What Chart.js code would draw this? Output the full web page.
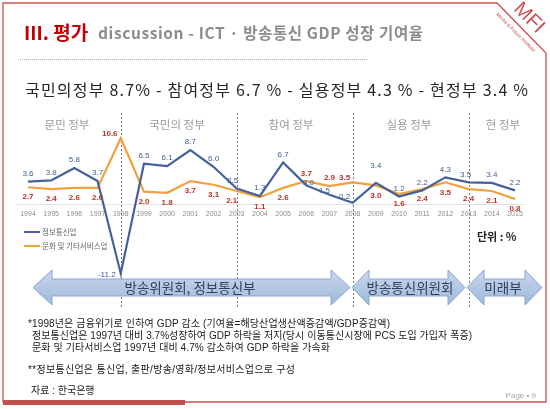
<!DOCTYPE html>
<html>
<head>
<meta charset="utf-8">
<script src="https://cdn.jsdelivr.net/npm/chart.js@4/dist/chart.umd.min.js"></script>
<style>
  html, body { margin:0; padding:0; background:#fff; }
  #slide { position:relative; width:550px; height:409px; overflow:hidden; }
  #chart { position:absolute; left:0; top:0; }
  #deco { position:absolute; left:0; top:0; pointer-events:none; }
  .kr { font-family:"Noto Sans CJK KR","Liberation Sans",sans-serif; }
  .note { font-family:"Liberation Sans","Noto Sans CJK KR",sans-serif; font-size:10px; fill:#1a1a1a; }
</style>
</head>
<body>
<div id="slide">
  <canvas id="chart" width="550" height="409"></canvas>
  <svg id="deco" width="550" height="409" xmlns="http://www.w3.org/2000/svg">
    <defs>
      <linearGradient id="arrowFill" x1="0" y1="0" x2="0" y2="1">
        <stop offset="0" stop-color="#c9d8ec"/>
        <stop offset="1" stop-color="#9fb8db"/>
      </linearGradient>
    </defs>

    <!-- slide frame -->
    <path d="M3,3 L497,3 L546,53 L546,402 L3,402 Z" fill="none" stroke="#c9504f" stroke-width="1.3"/>
    <rect x="3" y="400" width="182" height="5" fill="#c0504d"/>
    <text x="530" y="24" transform="rotate(45 530 17)" text-anchor="middle" font-family="Liberation Sans" font-size="20" fill="#c9504f">MFI</text>
    <text x="516" y="34" transform="rotate(45 516 32)" text-anchor="middle" font-family="Liberation Sans" font-size="5" fill="#c9504f">Media &amp; Future Institute</text>

    <!-- title -->
    <text x="24" y="40" class="kr" font-size="19" font-weight="700" fill="#c00000">III. 평가</text>
    <text x="98" y="39" class="kr" font-size="15.5" font-weight="700" fill="#8c8c8c" textLength="325">discussion - ICT · 방송통신 GDP 성장 기여율</text>
    <line x1="18" y1="59.5" x2="367" y2="59.5" stroke="#b0b0b0" stroke-width="1" stroke-dasharray="1,1"/>
    <text x="25" y="96" class="kr" font-size="16" fill="#262626" textLength="503">국민의정부 8.7% - 참여정부 6.7 % - 실용정부 4.3 % - 현정부 3.4 %</text>

    <!-- era labels -->
    <g class="kr" font-size="11.5" fill="#9a9a9a" text-anchor="middle">
      <text x="67" y="129">문민 정부</text>
      <text x="177" y="129">국민의 정부</text>
      <text x="291" y="129">참여 정부</text>
      <text x="409" y="129">실용 정부</text>
      <text x="503" y="129">현 정부</text>
    </g>

    <!-- legend -->
    <line x1="24" y1="232" x2="40" y2="232" stroke="#44619a" stroke-width="2"/>
    <text x="42" y="234.5" class="kr" font-size="7.5" fill="#666">정보통신업</text>
    <line x1="24" y1="246" x2="40" y2="246" stroke="#f0a13e" stroke-width="2"/>
    <text x="42" y="248.5" class="kr" font-size="7.5" fill="#666">문화 및 기타서비스업</text>

    <text x="477" y="241" class="kr" font-size="11" font-weight="700" fill="#222">단위 : %</text>

    <!-- ministry arrows -->
    <g fill="url(#arrowFill)" stroke="#8aa6cf" stroke-width="1">
      <polygon points="33,287.5 52,270 52,279 331,279 331,270 350,287.5 331,305 331,296 52,296 52,305"/>
      <polygon points="352,287.5 369,270 369,279 448,279 448,270 465,287.5 448,305 448,296 369,296 369,305"/>
      <polygon points="467,287.5 484,270 484,279 525,279 525,270 542,287.5 525,305 525,296 484,296 484,305"/>
    </g>
    <g class="kr" font-size="13.5" fill="#2f3f5c" text-anchor="middle">
      <text x="190" y="292.5">방송위원회, 정보통신부</text>
      <text x="410" y="292.5">방송통신위원회</text>
      <text x="503" y="292.5">미래부</text>
    </g>

    <!-- notes -->
    <text x="28" y="327" class="note" textLength="362">*1998년은 금융위기로 인하여 GDP 감소 (기여율=해당산업생산액증감액/GDP증감액)</text>
    <text x="32" y="339" class="note" textLength="440">정보통신업은 1997년 대비 3.7%성장하여 GDP 하락을 저지(당시 이동통신시장에 PCS 도입 가입자 폭증)</text>
    <text x="32" y="350.5" class="note" textLength="298">문화 및 기타서비스업 1997년 대비 4.7% 감소하여 GDP 하락을 가속화</text>
    <text x="28" y="372.5" class="note" textLength="267">**정보통신업은 통신업, 출판/방송/영화/정보서비스업으로 구성</text>
    <text x="31" y="393.5" class="note">자료 : 한국은행</text>

    <text x="536" y="398" text-anchor="end" font-family="Liberation Sans" font-size="8" fill="#a6a6a6">Page • 9</text>
  </svg>
</div>

<script>
// values (GDP growth contribution, %)
const years = ['1994','1995','1996','1997','1998','1999','2000','2001','2002','2003','2004',
               '2005','2006','2007','2008','2009','2010','2011','2012','2013','2014','2015'];
const ictValues     = [3.6, 3.8, 5.8, 3.7, -11.2, 6.5, 6.1, 8.7, 6.0, 2.5, 1.3,
                       6.7, 3.0, 1.5, 0.2, 3.4, 1.2, 2.2, 4.3, 3.5, 3.4, 2.2];
const cultureValues = [2.7, 2.4, 2.6, 2.6, 10.6, 2.0, 1.8, 3.7, 3.1, 2.1, 1.1,
                       2.6, 3.7, 2.9, 3.5, 3.0, 1.6, 2.4, 3.5, 2.4, 2.1, 0.8];
const seriesNames = ['정보통신업', '문화 및 기타서비스업'];
const eraStarts = ['1998', '2003', '2008', '2013'];

// where a value label sits relative to its point, when not the default
const labelNudge = [
  { '1998':[-14,1], '2003':[-4,-8], '2006':[2,-3], '2007':[-5,-4], '2008':[-8,-6], '2009':[0,-17], '2013':[-3,-8] },
  { '1998':[-11,-4], '2003':[-5,10], '2006':[0,-7], '2007':[0,-8], '2008':[-8,-5] }
];
const labelDefault = [[0,-8], [0,10]];
const labelStyle = [
  { color:'#45608c', font:'8px "Liberation Sans", sans-serif' },
  { color:'#b8322a', font:'bold 8px "Liberation Sans", sans-serif' }
];

const eraLines = {
  id:'eraLines',
  beforeDatasetsDraw(chart){
    const {ctx, scales:{x, y}} = chart;
    ctx.save();
    // zero line, a little wider than the plot
    const y0 = Math.round(y.getPixelForValue(0)) + 0.5;
    ctx.strokeStyle = '#e2e2e2';
    ctx.lineWidth = 1;
    ctx.beginPath(); ctx.moveTo(17, y0); ctx.lineTo(525, y0); ctx.stroke();
    // dotted era separators
    ctx.strokeStyle = '#7a7a7a';
    ctx.setLineDash([2,2]);
    eraStarts.forEach(yr => {
      const px = Math.round(x.getPixelForValue(years.indexOf(yr))) + 0.5;
      ctx.beginPath(); ctx.moveTo(px, 113); ctx.lineTo(px, 308); ctx.stroke();
    });
    ctx.restore();
  }
};

const valueLabels = {
  id:'valueLabels',
  afterDatasetsDraw(chart){
    const ctx = chart.ctx;
    ctx.save();
    ctx.textAlign = 'center';
    ctx.textBaseline = 'middle';
    chart.data.datasets.forEach((ds, di) => {
      const meta = chart.getDatasetMeta(di);
      ctx.fillStyle = labelStyle[di].color;
      ctx.font = labelStyle[di].font;
      meta.data.forEach((pt, i) => {
        const d = labelNudge[di][years[i]] || labelDefault[di];
        ctx.fillText(ds.data[i].toFixed(1), pt.x + d[0], pt.y + d[1]);
      });
    });
    ctx.restore();
  }
};

new Chart(document.getElementById('chart'), {
  type:'line',
  data:{
    labels: years,
    datasets:[
      { label: seriesNames[0], data: ictValues, borderColor:'#44619a', borderWidth:2.2, pointRadius:0, tension:0 },
      { label: seriesNames[1], data: cultureValues, borderColor:'#f0a13e', borderWidth:2.2, pointRadius:0, tension:0 }
    ]
  },
  options:{
    responsive:false,
    animation:false,
    layout:{ padding:{ left:28, right:35, top:129.6, bottom:130.6 } },
    plugins:{ legend:{ display:false }, tooltip:{ enabled:false } },
    scales:{
      x:{
        position:{ y:0 },
        grid:{ display:false, drawTicks:false },
        border:{ display:false },
        ticks:{ color:'#8a8a8a', font:{ size:7, family:'Liberation Sans' }, padding:6, maxRotation:0, autoSkip:false }
      },
      y:{ display:false, min:-12, max:12 }
    }
  },
  plugins:[eraLines, valueLabels]
});
</script>
</body>
</html>
